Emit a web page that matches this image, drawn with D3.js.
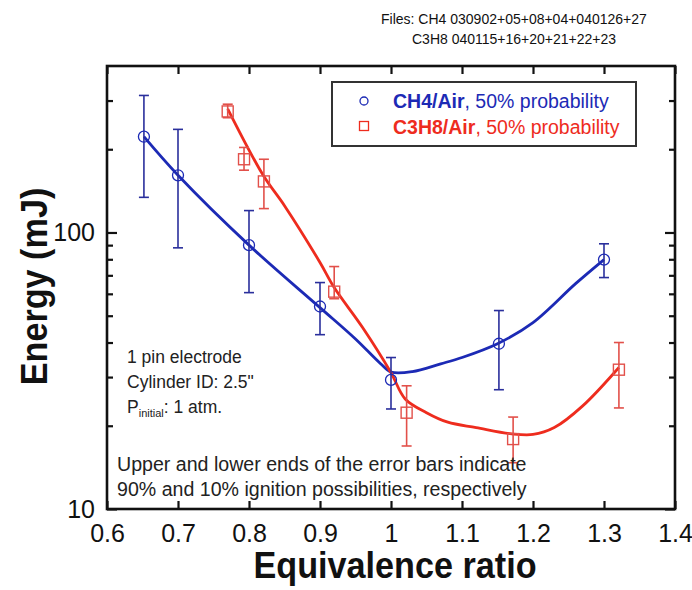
<!DOCTYPE html>
<html>
<head>
<meta charset="utf-8">
<script src="https://cdn.jsdelivr.net/npm/d3@7"></script>
<style>
  html, body { margin: 0; padding: 0; background: #fff; }
  svg { display: block; font-family: "Liberation Sans", Arial, sans-serif; }
</style>
</head>
<body>
<div id="chart"></div>
<script>
/* <!-- Data: CH4 / Air, 50% probability --> */
const ch4Phi = [0.652, 0.70, 0.80, 0.90, 1.00, 1.152, 1.30];
const ch4Energy = [222, 161, 90, 54, 29.3, 39.6, 79.8];
const ch4High = [313, 236, 120, 65.9, 35.3, 52.2, 91];
const ch4Low = [134, 88, 60.6, 42.7, 23.0, 27.0, 68.7];

/* <!-- Data: C3H8 / Air, 50% probability --> */
const c3h8Phi = [0.77, 0.793, 0.821, 0.92, 1.022, 1.172, 1.321];
const c3h8Energy = [274, 184, 153, 61.1, 22.3, 17.9, 31.9];
const c3h8High = [291, 203, 184, 75.3, 27.9, 21.5, 40.0];
const c3h8Low = [260, 168, 122, 57.6, 16.9, 14.7, 23.2];

/* <!-- Fitted curves --> */
const ch4FitPhi = [0.652, 0.70, 0.80, 0.90, 0.95, 0.985, 1.00, 1.03, 1.07, 1.10, 1.15, 1.20, 1.26, 1.30];
const ch4FitEnergy = [222, 161, 90, 53.5, 41.2, 33.6, 31.3, 31.4, 33.5, 35.3, 39.6, 47.2, 65.3, 79.8];
const c3h8FitPhi = [0.77, 0.82, 0.85, 0.90, 0.92, 0.96, 1.00, 1.02, 1.05, 1.08, 1.12, 1.17, 1.20, 1.23, 1.27, 1.321];
const c3h8FitEnergy = [280, 161, 125, 77.9, 63.2, 45.3, 31.1, 25.0, 22.3, 20.6, 19.7, 18.7, 18.6, 19.7, 23.6, 32.5];

/* <!-- Ticks --> */
const xTicks = [0.6, 0.7, 0.8, 0.9, 1.0, 1.1, 1.2, 1.3, 1.4];
const yMajor = [10, 100];
const yMinor = [20, 30, 40, 50, 60, 70, 80, 90, 200, 300];

const blue = "#1c2ab5", blueBar = "#2a2f9c", red = "#ee2c1e", redBar = "#e2504a";

var width = 692, height = 590,
  margin = { top: 66, right: 17, bottom: 81, left: 107 },
  innerW = width - margin.left - margin.right,
  innerH = height - margin.top - margin.bottom;

var svg = d3.select("#chart").append("svg")
  .attr("width", width).attr("height", height);

var g = svg.append("g").attr("transform", `translate(${margin.left},${margin.top})`);

var x = d3.scaleLinear().domain([0.6, 1.4]).range([0, innerW]),
  y = d3.scaleLog().domain([10, 400]).range([innerH, 0]);

/* <!-- Axes (ticks inward on all four sides) --> */
var fmtX = d => d === 1 ? "1" : d3.format(".1f")(d);

g.append("g").attr("transform", `translate(0,${innerH})`)
  .call(d3.axisBottom(x).tickValues(xTicks).tickSize(-8).tickPadding(15).tickFormat(fmtX))
  .call(a => a.selectAll("text").attr("font-size", 25).attr("fill", "#111"));
g.append("g")
  .call(d3.axisTop(x).tickValues(xTicks).tickSize(-8).tickFormat(""));

g.append("g")
  .call(d3.axisLeft(y).tickValues(yMajor).tickSize(-10).tickPadding(12).tickFormat(d3.format("d")))
  .call(a => a.selectAll("text").attr("font-size", 25).attr("fill", "#111"));
g.append("g")
  .call(d3.axisLeft(y).tickValues(yMinor).tickSize(-6).tickFormat(""));
g.append("g").attr("transform", `translate(${innerW},0)`)
  .call(d3.axisRight(y).tickValues(yMajor).tickSize(-10).tickFormat(""));
g.append("g").attr("transform", `translate(${innerW},0)`)
  .call(d3.axisRight(y).tickValues(yMinor).tickSize(-6).tickFormat(""));

g.selectAll(".domain").remove();
g.selectAll(".tick line").attr("stroke", "#111").attr("stroke-width", 2.2);

g.append("rect")
  .attr("width", innerW).attr("height", innerH)
  .attr("fill", "none").attr("stroke", "#111").attr("stroke-width", 2.6);

/* <!-- Axis titles --> */
svg.append("text")
  .attr("transform", `translate(${margin.left + innerW / 2 + 4},578) scale(0.95,1.04)`)
  .attr("text-anchor", "middle").attr("font-size", 36).attr("font-weight", "bold")
  .attr("fill", "#111")
  .text("Equivalence ratio");

svg.append("text")
  .attr("transform", `translate(47,${margin.top + innerH / 2 - 1}) rotate(-90) scale(0.95,1.04)`)
  .attr("text-anchor", "middle").attr("font-size", 36).attr("font-weight", "bold")
  .attr("fill", "#111")
  .text("Energy (mJ)");

/* <!-- Fitted lines --> */
var line = d3.line().x(d => x(d[0])).y(d => y(d[1])).curve(d3.curveCatmullRom);

g.append("path")
  .datum(d3.zip(ch4FitPhi, ch4FitEnergy))
  .attr("d", line).attr("fill", "none").attr("stroke", blue).attr("stroke-width", 2.8);
g.append("path")
  .datum(d3.zip(c3h8FitPhi, c3h8FitEnergy))
  .attr("d", line).attr("fill", "none").attr("stroke", red).attr("stroke-width", 2.8);

/* <!-- Error bars --> */
var errorBars = (phi, lo, hi, colour) => {
  var rows = d3.zip(phi, lo, hi);
  var eb = g.append("g").attr("stroke", colour).attr("stroke-width", 1.6);
  eb.selectAll(".stem").data(rows).enter().append("line")
    .attr("x1", d => x(d[0])).attr("x2", d => x(d[0]))
    .attr("y1", d => y(d[1])).attr("y2", d => y(d[2]));
  eb.selectAll(".capLo").data(rows).enter().append("line")
    .attr("x1", d => x(d[0]) - 5).attr("x2", d => x(d[0]) + 5)
    .attr("y1", d => y(d[1])).attr("y2", d => y(d[1]));
  eb.selectAll(".capHi").data(rows).enter().append("line")
    .attr("x1", d => x(d[0]) - 5).attr("x2", d => x(d[0]) + 5)
    .attr("y1", d => y(d[2])).attr("y2", d => y(d[2]));
};
errorBars(ch4Phi, ch4Low, ch4High, blueBar);
errorBars(c3h8Phi, c3h8Low, c3h8High, redBar);

/* <!-- Markers --> */
g.selectAll(".ch4").data(d3.zip(ch4Phi, ch4Energy)).enter().append("circle")
  .attr("cx", d => x(d[0])).attr("cy", d => y(d[1])).attr("r", 5.5)
  .attr("fill", "none").attr("stroke", blue).attr("stroke-width", 1.3);
g.selectAll(".c3h8").data(d3.zip(c3h8Phi, c3h8Energy)).enter().append("rect")
  .attr("x", d => x(d[0]) - 5.5).attr("y", d => y(d[1]) - 5.5)
  .attr("width", 11).attr("height", 11)
  .attr("fill", "none").attr("stroke", redBar).attr("stroke-width", 1.4);

/* <!-- Legend --> */
var legend = svg.append("g");
legend.append("rect")
  .attr("x", 332).attr("y", 82).attr("width", 304).attr("height", 64)
  .attr("fill", "#fff").attr("stroke", "#333").attr("stroke-width", 2);
legend.append("circle").attr("cx", 364).attr("cy", 101).attr("r", 4)
  .attr("fill", "none").attr("stroke", blue).attr("stroke-width", 1.3);
legend.append("rect").attr("x", 359.5).attr("y", 121.5).attr("width", 9).attr("height", 9)
  .attr("fill", "none").attr("stroke", red).attr("stroke-width", 1.3);
var l1 = legend.append("text").attr("x", 393).attr("y", 108).attr("font-size", 19.5).attr("fill", blue);
l1.append("tspan").attr("font-weight", "bold").text("CH4/Air");
l1.append("tspan").text(", 50% probability");
var l2 = legend.append("text").attr("x", 393).attr("y", 134).attr("font-size", 19.5).attr("fill", red);
l2.append("tspan").attr("font-weight", "bold").text("C3H8/Air");
l2.append("tspan").text(", 50% probability");

/* <!-- Notes --> */
var note = svg.append("g").attr("font-size", 17.5).attr("fill", "#222");
note.append("text").attr("x", 127).attr("y", 363).text("1 pin electrode");
note.append("text").attr("x", 127).attr("y", 388).text("Cylinder ID: 2.5\"");
var p = note.append("text").attr("x", 127).attr("y", 413);
p.append("tspan").text("P");
p.append("tspan").attr("font-size", 11).attr("dy", 4).text("initial");
p.append("tspan").attr("dy", -4).text(": 1 atm.");
var note2 = svg.append("g").attr("font-size", 19.6).attr("fill", "#222");
note2.append("text").attr("x", 117).attr("y", 471).text("Upper and lower ends of the error bars indicate");
note2.append("text").attr("x", 117).attr("y", 496).text("90% and 10% ignition possibilities, respectively");

/* <!-- File header --> */
var files = svg.append("g").attr("font-size", 14).attr("fill", "#111");
files.append("text").attr("x", 381).attr("y", 24).text("Files: CH4 030902+05+08+04+040126+27");
files.append("text").attr("x", 412).attr("y", 44).text("C3H8 040115+16+20+21+22+23");
</script>
</body>
</html>
